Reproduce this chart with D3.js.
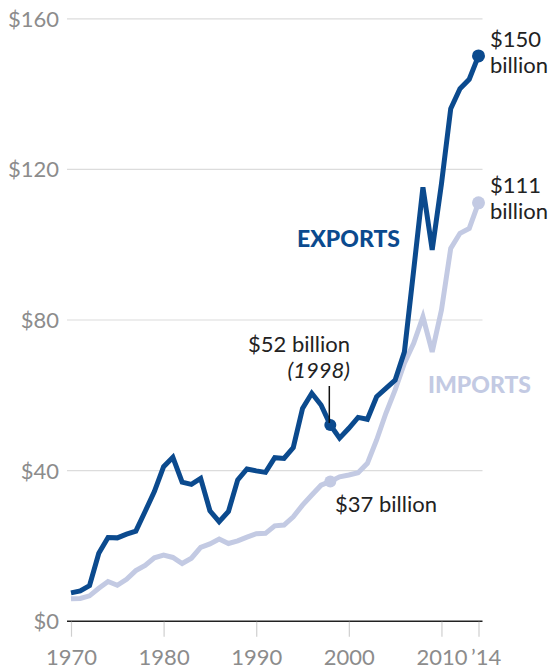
<!DOCTYPE html>
<html>
<head>
<meta charset="utf-8">
<script src="https://cdn.jsdelivr.net/npm/d3@7"></script>
<style>
  html, body { margin: 0; padding: 0; background: #fff; }
  svg { display: block; font-family: Lato, "Open Sans", sans-serif; }
</style>
</head>
<body>
<svg id="chart" width="551" height="670"></svg>
<script>
// Annual trade values, billions of dollars
const years = d3.range(1970, 2015);
const exportsValues = [
  7.4, 7.9, 9.3, 17.9, 22.1, 22.0, 23.0, 23.8, 29.0, 34.3,
  40.9, 43.4, 36.8, 36.2, 37.8, 29.2, 26.3, 29.0, 37.4, 40.3,
  39.8, 39.4, 43.3, 43.1, 46.0, 56.4, 60.4, 57.3, 52.0, 48.5,
  51.1, 54.0, 53.5, 59.5, 61.7, 63.9, 71.4, 93.1, 115.1, 98.5,
  116.0, 136.0, 141.3, 143.8, 150.0
];
const importsValues = [
  5.8, 5.9, 6.6, 8.6, 10.4, 9.4, 11.0, 13.3, 14.7, 16.7,
  17.4, 16.8, 15.2, 16.6, 19.5, 20.4, 21.7, 20.5, 21.2, 22.2,
  23.1, 23.2, 25.2, 25.4, 27.6, 30.7, 33.4, 36.0, 37.0, 38.2,
  38.7, 39.3, 41.8, 48.0, 55.1, 61.3, 68.4, 73.7, 80.7, 71.4,
  82.5, 98.9, 102.9, 104.2, 111.0
];
const yTicks = [0, 40, 80, 120, 160];
const xTicks = [1970, 1980, 1990, 2000, 2010, 2014];
const xTickLabels = ["1970", "1980", "1990", "2000", "2010", "\u201914"];

const EXP_COLOR = "#0b4a8e";
const IMP_COLOR = "#c3cae3";

const svg = d3.select("#chart");
const x = d3.scaleLinear().domain([1970, 2014]).range([71, 478.5]);
const y = d3.scaleLinear().domain([0, 160]).range([620.7, 18.3]);
const gridLeft = 67, gridRight = 482.5;

// Horizontal gridlines and dollar labels
const yAxis = svg.append("g").attr("transform", `translate(${gridLeft},0)`)
  .call(d3.axisLeft(y).tickValues(yTicks).tickSize(0).tickPadding(8)
    .tickFormat(d => "$" + d));
yAxis.select(".domain").remove();
yAxis.selectAll(".tick line")
  .attr("x2", gridRight - gridLeft)
  .attr("stroke", d => d === 0 ? "#222" : "#dcdcdc")
  .attr("stroke-width", d => d === 0 ? 1.5 : 1.2);
yAxis.selectAll(".tick text")
  .attr("font-size", 22).attr("fill", "#8c8c8c").attr("font-family", "Lato")
  .attr("dy", "0.36em");

// Year ticks below the baseline
const xAxis = svg.append("g").attr("transform", `translate(0,${y(0) + 1})`)
  .call(d3.axisBottom(x).tickValues(xTicks).tickSize(15)
    .tickFormat((d, i) => xTickLabels[i]));
xAxis.select(".domain").remove();
xAxis.selectAll(".tick line").attr("stroke", "#cfcfcf").attr("stroke-width", 1.2);
xAxis.selectAll(".tick text")
  .attr("font-size", 22).attr("fill", "#8c8c8c").attr("font-family", "Lato")
  .attr("y", 43.5).attr("dy", 0)
  .filter(d => d === 2014).attr("text-anchor", "start").attr("dx", -8);

// Series lines
const line = d3.line().x((d, i) => x(years[i])).y(d => y(d));
svg.append("path").datum(importsValues)
  .attr("fill", "none").attr("stroke", IMP_COLOR).attr("stroke-width", 5)
  .attr("d", line);
svg.append("path").datum(exportsValues)
  .attr("fill", "none").attr("stroke", EXP_COLOR).attr("stroke-width", 5)
  .attr("d", line);

// Highlighted points
const idx98 = years.indexOf(1998), idx14 = years.indexOf(2014);
svg.append("circle").attr("cx", x(1998)).attr("cy", y(importsValues[idx98])).attr("r", 6).attr("fill", IMP_COLOR);
svg.append("circle").attr("cx", x(2014)).attr("cy", y(importsValues[idx14])).attr("r", 6.5).attr("fill", IMP_COLOR);
svg.append("circle").attr("cx", x(1998)).attr("cy", y(exportsValues[idx98])).attr("r", 6).attr("fill", EXP_COLOR);
svg.append("circle").attr("cx", x(2014)).attr("cy", y(exportsValues[idx14])).attr("r", 6.5).attr("fill", EXP_COLOR);

// Leader for the 1998 exports callout
svg.append("line")
  .attr("x1", x(1998) - 1).attr("x2", x(1998) - 1)
  .attr("y1", 386).attr("y2", y(exportsValues[idx98]) - 2)
  .attr("stroke", "#111").attr("stroke-width", 1.5);

const ann = svg.append("g").attr("font-family", "Lato").attr("font-size", 22).attr("fill", "#222");
function twoLine(xp, yp, a, b) {
  const t = ann.append("text").attr("x", xp).attr("y", yp);
  t.append("tspan").attr("x", xp).text(a);
  t.append("tspan").attr("x", xp).attr("dy", 26).text(b);
}
twoLine(490, 47, "$" + Math.round(exportsValues[idx14]), "billion");
twoLine(490, 193, "$" + Math.round(importsValues[idx14]), "billion");
ann.append("text").attr("x", 350).attr("y", 352).attr("text-anchor", "end")
  .text("$" + Math.round(exportsValues[idx98]) + " billion");
ann.append("text").attr("x", 350).attr("y", 378).attr("text-anchor", "end")
  .attr("font-style", "italic").text("(1998)");
ann.append("text").attr("x", 335).attr("y", 512)
  .text("$" + Math.round(importsValues[idx98]) + " billion");

// Series names
svg.append("text").attr("x", 297).attr("y", 247)
  .attr("font-family", "Lato").attr("font-weight", 900).attr("font-size", 23)
  .attr("fill", EXP_COLOR).text("EXPORTS");
svg.append("text").attr("x", 428).attr("y", 392.5)
  .attr("font-family", "Lato").attr("font-weight", 900).attr("font-size", 23)
  .attr("fill", IMP_COLOR).text("IMPORTS");
</script>
</body>
</html>
